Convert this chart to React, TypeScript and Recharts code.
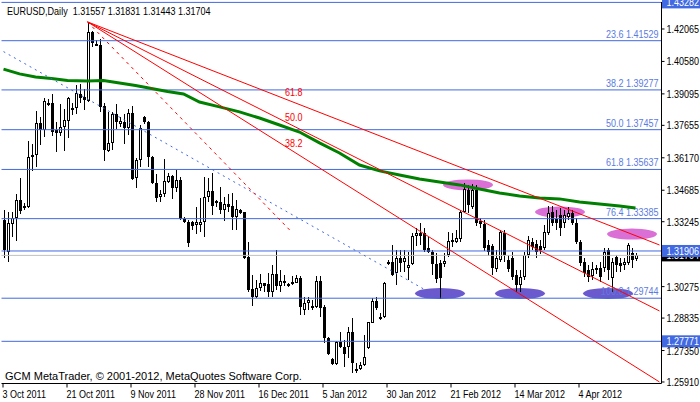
import React from "react";
import {
  ComposedChart,
  Bar,
  Line,
  XAxis,
  YAxis,
  ReferenceLine,
  ReferenceDot,
} from "recharts";

// daily EURUSD bars, 3 Oct 2011 .. Apr 2012
const opens = [
  1.3332, 1.3186, 1.3314, 1.3342, 1.3424, 1.3387, 1.3392, 1.363, 1.363, 1.3776,
  1.3744, 1.3868, 1.3868, 1.3744, 1.3731, 1.3758, 1.3786, 1.3845, 1.3845, 1.3909,
  1.3895, 1.3877, 1.4193, 1.4138, 1.4133, 1.3854, 1.3648, 1.3685, 1.3818, 1.3772,
  1.3781, 1.3753, 1.3822, 1.3525, 1.3607, 1.3804, 1.3781, 1.3621, 1.3502, 1.3438,
  1.3451, 1.3506, 1.3534, 1.3479, 1.3516, 1.3337, 1.3323, 1.3323, 1.331, 1.331,
  1.3323, 1.3438, 1.3465, 1.3419, 1.3415, 1.3378, 1.3406, 1.3396, 1.3346, 1.3378,
  1.3369, 1.3163, 1.3017, 1.298, 1.3021, 1.3044, 1.3039, 1.3003, 1.3085, 1.303,
  1.3053, 1.3039, 1.3039, 1.3044, 1.3067, 1.2921, 1.2953, 1.2939, 1.2934, 1.3053,
  1.2934, 1.2792, 1.2696, 1.2673, 1.2774, 1.2751, 1.2751, 1.282, 1.2651, 1.2651,
  1.2669, 1.2747, 1.2861, 1.2962, 1.2879, 1.2889, 1.3131, 1.314, 1.309, 1.3159,
  1.314, 1.3113, 1.3131, 1.3259, 1.3273, 1.3273, 1.3204, 1.3186, 1.3131, 1.3136,
  1.3131, 1.3172, 1.3241, 1.3232, 1.3245, 1.3369, 1.347, 1.3392, 1.347, 1.3328,
  1.3314, 1.3218, 1.3213, 1.3108, 1.3149, 1.3273, 1.3149, 1.3159, 1.3081, 1.3035,
  1.3072, 1.3172, 1.3232, 1.3223, 1.3213, 1.3204, 1.3273, 1.3369, 1.3337, 1.3355,
  1.3319, 1.3346, 1.3364, 1.3319, 1.3232, 1.314, 1.3104, 1.3076, 1.3113, 1.3113,
  1.3113, 1.3195, 1.3067, 1.3163, 1.3136, 1.3126, 1.3136, 1.3181, 1.31557,
];
const highs = [
  1.3378, 1.3369, 1.3369, 1.3451, 1.3525, 1.341, 1.3694, 1.368, 1.3831, 1.3804,
  1.3891, 1.3886, 1.3909, 1.3781, 1.3863, 1.384, 1.3895, 1.3868, 1.395, 1.3955,
  1.3932, 1.4239, 1.4195, 1.4156, 1.4161, 1.3868, 1.3827, 1.3827, 1.3863, 1.3804,
  1.3818, 1.384, 1.3854, 1.3616, 1.3767, 1.3808, 1.3786, 1.3625, 1.3543, 1.347,
  1.3612, 1.3548, 1.3538, 1.3561, 1.3529, 1.3346, 1.3332, 1.3328, 1.3392, 1.3433,
  1.3529, 1.3525, 1.3548, 1.3424, 1.3483, 1.3438, 1.3451, 1.3456, 1.3424, 1.3383,
  1.3369, 1.3232, 1.3081, 1.3058, 1.3085, 1.3046, 1.309, 1.3126, 1.3195, 1.3104,
  1.3081, 1.3044, 1.3076, 1.3081, 1.3076, 1.298, 1.298, 1.2966, 1.3076, 1.3076,
  1.2943, 1.2797, 1.2701, 1.2779, 1.282, 1.2783, 1.2843, 1.2884, 1.2678, 1.2683,
  1.2806, 1.2866, 1.2975, 1.298, 1.2907, 1.3049, 1.3149, 1.3218, 1.3195, 1.3195,
  1.3195, 1.3186, 1.3273, 1.3296, 1.3319, 1.3296, 1.3255, 1.3195, 1.3181, 1.3149,
  1.3181, 1.3278, 1.3273, 1.3287, 1.3378, 1.3502, 1.3493, 1.3497, 1.3493, 1.3342,
  1.3332, 1.3241, 1.3223, 1.3195, 1.3287, 1.3287, 1.3172, 1.3186, 1.3104, 1.3104,
  1.3186, 1.3259, 1.325, 1.3241, 1.3241, 1.331, 1.3396, 1.3396, 1.3378, 1.3387,
  1.3378, 1.3392, 1.3378, 1.3342, 1.3241, 1.3159, 1.3126, 1.314, 1.3126, 1.314,
  1.3204, 1.3204, 1.3159, 1.3172, 1.3159, 1.3159, 1.3227, 1.3204, 1.31831,
];
const lows = [
  1.3159, 1.314, 1.3255, 1.3236, 1.336, 1.3378, 1.3387, 1.3557, 1.3575, 1.3676,
  1.3712, 1.3854, 1.3717, 1.3644, 1.3717, 1.3648, 1.3708, 1.3813, 1.3818, 1.3868,
  1.3836, 1.3872, 1.4124, 1.4127, 1.3827, 1.3602, 1.3644, 1.3653, 1.3749, 1.3758,
  1.368, 1.3721, 1.3516, 1.3479, 1.3575, 1.3772, 1.3575, 1.3497, 1.3415, 1.3415,
  1.3438, 1.3502, 1.3429, 1.3461, 1.3332, 1.3319, 1.3209, 1.3287, 1.3268, 1.3278,
  1.3255, 1.3415, 1.3355, 1.3392, 1.336, 1.3328, 1.3369, 1.3287, 1.3287, 1.336,
  1.3154, 1.3003, 1.2939, 1.2975, 1.3007, 1.3003, 1.298, 1.298, 1.3012, 1.3003,
  1.303, 1.3026, 1.3035, 1.3042, 1.2898, 1.2898, 1.2921, 1.2921, 1.293, 1.2889,
  1.277, 1.2715, 1.2669, 1.2669, 1.2747, 1.266, 1.2701, 1.2632, 1.2632, 1.2646,
  1.2665, 1.2742, 1.2861, 1.2921, 1.2875, 1.2884, 1.3126, 1.3076, 1.3035, 1.3094,
  1.3094, 1.3058, 1.3126, 1.3213, 1.3218, 1.3186, 1.3181, 1.3081, 1.3044, 1.2971,
  1.3117, 1.3163, 1.3209, 1.3227, 1.3232, 1.3364, 1.3364, 1.3383, 1.3305, 1.3296,
  1.3191, 1.3168, 1.3081, 1.3094, 1.314, 1.314, 1.3094, 1.3058, 1.3003, 1.3003,
  1.3058, 1.3159, 1.3195, 1.3159, 1.3177, 1.3195, 1.3264, 1.3305, 1.3287, 1.3259,
  1.3296, 1.3332, 1.331, 1.3223, 1.3122, 1.3072, 1.3049, 1.3058, 1.3085, 1.3049,
  1.3094, 1.3058, 1.3003, 1.3094, 1.3094, 1.3104, 1.3126, 1.3113, 1.31443,
];
const closes = [
  1.3195, 1.3319, 1.3342, 1.3424, 1.3374, 1.3396, 1.3621, 1.3621, 1.3776, 1.3744,
  1.3877, 1.3859, 1.3735, 1.3731, 1.3758, 1.379, 1.3891, 1.3836, 1.3914, 1.3891,
  1.3882, 1.4193, 1.4142, 1.4129, 1.385, 1.3653, 1.3685, 1.3818, 1.3781, 1.3786,
  1.3753, 1.3822, 1.352, 1.3607, 1.3753, 1.3781, 1.3621, 1.3502, 1.3433, 1.3451,
  1.3511, 1.3534, 1.3479, 1.3516, 1.3337, 1.3323, 1.3227, 1.3305, 1.3323, 1.3323,
  1.3438, 1.3465, 1.3396, 1.341, 1.3378, 1.3406, 1.3392, 1.3346, 1.3383, 1.3364,
  1.3159, 1.3012, 1.298, 1.3021, 1.3044, 1.303, 1.3003, 1.3085, 1.303, 1.3053,
  1.3044, 1.303, 1.3049, 1.3067, 1.2934, 1.2953, 1.2966, 1.293, 1.3053, 1.293,
  1.2792, 1.2719, 1.2673, 1.2774, 1.2751, 1.2719, 1.282, 1.2678, 1.2641, 1.2669,
  1.2705, 1.2866, 1.2962, 1.293, 1.2889, 1.3044, 1.314, 1.3081, 1.3159, 1.3136,
  1.3159, 1.3126, 1.3259, 1.3273, 1.3259, 1.3195, 1.3186, 1.3131, 1.3062, 1.3067,
  1.3145, 1.3236, 1.3232, 1.325, 1.3369, 1.3474, 1.3401, 1.347, 1.3319, 1.3314,
  1.3204, 1.3186, 1.3113, 1.3159, 1.3278, 1.3172, 1.3108, 1.3072, 1.3035, 1.3072,
  1.3172, 1.3241, 1.3209, 1.3186, 1.3195, 1.3278, 1.3364, 1.3319, 1.3319, 1.3296,
  1.3355, 1.3364, 1.3319, 1.3232, 1.3136, 1.309, 1.3072, 1.3108, 1.3104, 1.3072,
  1.3186, 1.3104, 1.314, 1.3126, 1.3122, 1.314, 1.3218, 1.3149, 1.31704,
];

// moving average (green), sampled along its path
const maIdx = [
  0, 4, 8, 12, 16, 21, 25, 29, 33, 37, 41, 45, 49, 54, 59, 64, 69, 74, 79, 84,
  89, 94, 99, 104, 109, 114, 119, 124, 129, 134, 139, 144, 149, 154, 158,
];
const maVals = [
  1.4023, 1.4001, 1.3987, 1.398, 1.3971, 1.3969, 1.3971, 1.3959, 1.3948, 1.3934,
  1.392, 1.3909, 1.3872, 1.385, 1.3827, 1.3799, 1.3767, 1.3735, 1.3685, 1.3639,
  1.3584, 1.3557, 1.3538, 1.352, 1.3506, 1.3493, 1.3474, 1.3456, 1.3442, 1.3433,
  1.3429, 1.3415, 1.3406, 1.3396, 1.3387,
];

const SLOTS = 165; // chart keeps some empty space on the right
const tickIdx = [0, 16, 32, 48, 64, 80, 96, 112, 128, 144];
const dateLabels = [
  "3 Oct 2011",
  "21 Oct 2011",
  "9 Nov 2011",
  "28 Nov 2011",
  "16 Dec 2011",
  "5 Jan 2012",
  "30 Jan 2012",
  "21 Feb 2012",
  "14 Mar 2012",
  "4 Apr 2012",
];
const yTicks = [
  1.42065, 1.4058, 1.39095, 1.37655, 1.3617, 1.34685, 1.33245, 1.30275, 1.28835,
  1.2735, 1.2591,
];

const fibNames = ["23.6", "38.2", "50.0", "61.8", "76.4", "100.0"];
const fibPrices = [1.41529, 1.39277, 1.37457, 1.35637, 1.33385, 1.29744];

// fan from the 27 Oct high
const fanFrom = { idx: 21, price: 1.4239 };
const fanEndIdx = 164;
const fanEnds = [1.3218, 1.2916, 1.2591];
const fanBase = { idx: 72, price: 1.3278 };
const fanNames = ["61.8", "50.0", "38.2"];
const fanLabelIdx = 70;
const fanLabelPrices = [1.3918, 1.3804, 1.3685];

const trendFrom = { idx: 0, price: 1.4103 };
const trendTo = { idx: 105, price: 1.3017 };

// ellipse marks (behind the candles)
const lowMarks = [109, 129, 151];
const lowMarkPrice = 1.2996;
const highMarks = [116, 139, 157];
const highMarkPrices = [1.3493, 1.3369, 1.3268];

const bid = 1.31704;
const DOMAIN: [number, number] = [1.25841, 1.433];

const FONT = '"Liberation Sans", Arial, sans-serif';
const SQUEEZE = 0.82; // terminal font is narrower than Liberation Sans
const BLUE = "#4169E1";

const data = Array.from({ length: SLOTS }, (_, i) => {
  const row: any = { idx: i };
  if (i < opens.length) {
    row.open = opens[i];
    row.high = highs[i];
    row.low = lows[i];
    row.close = closes[i];
    row.range = [lows[i], highs[i]];
  }
  const k = maIdx.indexOf(i);
  if (k >= 0) row.ma = maVals[k];
  const a = lowMarks.indexOf(i);
  if (a >= 0) {
    row.mark = lowMarkPrice;
    row.markColor = "#6A5ACD";
  }
  const b = highMarks.indexOf(i);
  if (b >= 0) {
    row.mark = highMarkPrices[b];
    row.markColor = "#DA70D6";
  }
  return row;
});

function NText({ x, y, anchor = "start", fill = "#000", children }: any) {
  return (
    <g transform={`translate(${x},${y}) scale(${SQUEEZE},1)`}>
      <text x={0} y={0} textAnchor={anchor} fill={fill} fontSize={11} fontFamily={FONT}>
        {children}
      </text>
    </g>
  );
}

function Candle(props: any) {
  const { x, y, width, height, payload } = props;
  if (!payload || payload.open == null) return null;
  const { open, close, high, low } = payload;
  const top = Math.min(y, y + height);
  const bot = Math.max(y, y + height);
  const span = high - low || 1e-9;
  const py = (v: number) => top + ((high - v) / span) * (bot - top);
  const cx = Math.floor(x + width / 2) + 0.5;
  const bTop = Math.round(py(Math.max(open, close)));
  const bBot = Math.round(py(Math.min(open, close)));
  const up = close >= open;
  let body;
  if (bBot - bTop < 2) {
    body = <rect x={cx - 1.5} y={bTop} width={3} height={1} fill="#000" />;
  } else if (up) {
    body = (
      <rect x={cx - 1} y={bTop + 0.5} width={2} height={bBot - bTop - 1} fill="#fff" stroke="#000" strokeWidth={1} />
    );
  } else {
    body = <rect x={cx - 1.5} y={bTop} width={3} height={bBot - bTop} fill="#000" />;
  }
  return (
    <g shapeRendering="crispEdges">
      <line x1={cx} x2={cx} y1={Math.round(top)} y2={Math.round(bot)} stroke="#000" strokeWidth={1} />
      {body}
    </g>
  );
}

function Mark(props: any) {
  const { x, y, width, payload } = props;
  if (!payload || payload.mark == null) return null;
  return <ellipse cx={x + width / 2} cy={y} rx={25} ry={5.5} fill={payload.markColor} />;
}

function DateTick(props: any) {
  const { x, y, payload } = props;
  const k = tickIdx.indexOf(payload.value);
  return (
    <g>
      <line x1={x - 0.5} x2={x - 0.5} y1={y} y2={y + 4} stroke="#000" />
      <NText x={x - 1} y={y + 14.5}>
        {dateLabels[k]}
      </NText>
    </g>
  );
}

function PriceTick(props: any) {
  const { x, y, payload } = props;
  return (
    <g>
      <line x1={x} x2={x + 3} y1={y} y2={y} stroke="#000" />
      <NText x={x + 5} y={y + 4}>
        {Number(payload.value).toFixed(5)}
      </NText>
    </g>
  );
}

const tag = (text: string, bg: string) => (props: any) => {
  const vb = props.viewBox || {};
  const right = vb.x + vb.width;
  return (
    <g>
      <rect x={right + 0.5} y={vb.y - 6} width={38} height={12} fill={bg} />
      <NText x={right + 5} y={vb.y + 4} fill="#fff">
        {text}
      </NText>
    </g>
  );
};

const fibLabel = (text: string) => (props: any) => {
  const vb = props.viewBox || {};
  return (
    <NText x={vb.x + vb.width - 3} y={vb.y - 3} anchor="end" fill="#5B7BE0">
      {text}
    </NText>
  );
};

export default function App() {
  return (
    <div style={{ position: "absolute", left: 0, top: 0, width: 700, height: 402, background: "#fff" }}>
      <ComposedChart
        width={700}
        height={402}
        data={data}
        margin={{ top: 2, right: 0.5, bottom: 0.5, left: 1.5 }}
        barCategoryGap={0}
      >
        <XAxis
          dataKey="idx"
          type="category"
          ticks={tickIdx}
          interval={0}
          tick={<DateTick />}
          tickLine={false}
          tickSize={0}
          tickMargin={0}
          axisLine={{ stroke: "#000" }}
          height={18}
        />
        <XAxis xAxisId="m" dataKey="idx" type="category" hide />
        <YAxis
          yAxisId="l"
          orientation="left"
          width={0}
          domain={DOMAIN}
          allowDataOverflow
          tick={false}
          tickLine={false}
          axisLine={{ stroke: "#000" }}
        />
        <YAxis
          yAxisId="p"
          orientation="right"
          type="number"
          width={38}
          domain={DOMAIN}
          allowDataOverflow
          ticks={yTicks}
          interval={0}
          tick={<PriceTick />}
          tickLine={false}
          tickSize={0}
          tickMargin={0}
          axisLine={{ stroke: "#000" }}
        />

        <ReferenceLine yAxisId="p" y={bid} stroke="#C0C0C0" label={tag(bid.toFixed(5), "#000")} />
        <ReferenceLine yAxisId="p" y={1.43282} stroke={BLUE} label={tag("1.43282", BLUE)} />
        <ReferenceLine yAxisId="p" y={1.31906} stroke={BLUE} label={tag("1.31906", BLUE)} />
        <ReferenceLine yAxisId="p" y={1.27771} stroke={BLUE} label={tag("1.27771", BLUE)} />
        {fibPrices.map((v, k) => (
          <ReferenceLine
            key={"fib" + k}
            yAxisId="p"
            y={v}
            stroke={BLUE}
            label={fibLabel(`${fibNames[k]} ${v.toFixed(5)}`)}
          />
        ))}

        <Bar
          xAxisId="m"
          yAxisId="p"
          dataKey="mark"
          barSize={3}
          shape={<Mark />}
          isAnimationActive={false}
        />
        <Bar yAxisId="p" dataKey="range" barSize={3} shape={<Candle />} isAnimationActive={false} />

        <Line
          yAxisId="p"
          dataKey="ma"
          type="linear"
          stroke="#008000"
          strokeWidth={3}
          dot={false}
          connectNulls
          isAnimationActive={false}
        />

        <ReferenceLine
          yAxisId="p"
          segment={[
            { x: trendFrom.idx, y: trendFrom.price },
            { x: trendTo.idx, y: trendTo.price },
          ]}
          stroke={BLUE}
          strokeDasharray="2 4"
        />
        {fanEnds.map((v, k) => (
          <ReferenceLine
            key={"fan" + k}
            yAxisId="p"
            segment={[
              { x: fanFrom.idx, y: fanFrom.price },
              { x: fanEndIdx, y: v },
            ]}
            stroke="#FF0000"
          />
        ))}
        <ReferenceLine
          yAxisId="p"
          segment={[
            { x: fanFrom.idx, y: fanFrom.price },
            { x: fanBase.idx, y: fanBase.price },
          ]}
          stroke="#FF0000"
          strokeDasharray="3 4"
        />
        {fanNames.map((n, k) => (
          <ReferenceDot
            key={"fl" + k}
            yAxisId="p"
            x={fanLabelIdx}
            y={fanLabelPrices[k]}
            r={0}
            shape={(p: any) => (
              <NText x={p.cx + 1.5} y={p.cy + 4} fill="#FF0000">
                {n}
              </NText>
            )}
          />
        ))}
      </ComposedChart>

      <div
        style={{
          position: "absolute",
          left: 7,
          top: 5,
          fontFamily: FONT,
          fontSize: 11,
          lineHeight: "12px",
          whiteSpace: "pre",
          color: "#000",
          transform: `scaleX(${SQUEEZE})`,
          transformOrigin: "0 0",
        }}
      >
        {"EURUSD,Daily  1.31557 1.31831 1.31443 1.31704"}
      </div>
      <div
        style={{
          position: "absolute",
          left: 5,
          top: 370,
          fontFamily: FONT,
          fontSize: 11,
          lineHeight: "12px",
          whiteSpace: "pre",
          color: "#000",
        }}
      >
        {"GCM MetaTrader, © 2001-2012, MetaQuotes Software Corp."}
      </div>
    </div>
  );
}
